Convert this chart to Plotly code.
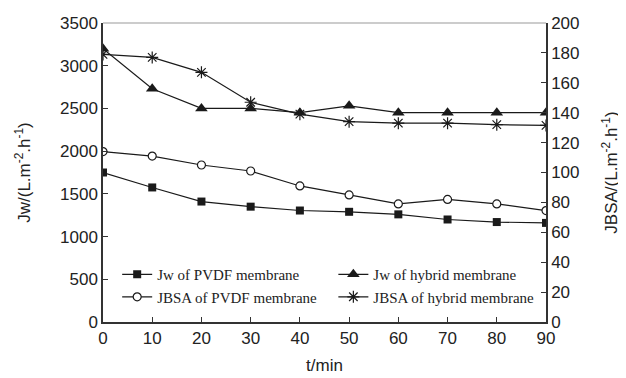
import plotly.graph_objects as go

t_min = [0, 10, 20, 30, 40, 50, 60, 70, 80, 90]
jw_pvdf = [1750, 1575, 1410, 1350, 1305, 1290, 1260, 1200, 1170, 1160]
jw_hybrid = [3200, 2730, 2500, 2500, 2450, 2530, 2450, 2450, 2450, 2450]
jbsa_pvdf = [114, 111, 105, 101, 91, 85, 79, 82, 79, 74.5]
jbsa_hybrid = [179, 177, 167, 147, 139, 134, 133, 133, 132, 131.5]

LC = "#1a1a1a"
fig = go.Figure()
common = dict(mode="lines+markers", line=dict(color=LC, width=1.2))
fig.add_trace(go.Scatter(x=t_min, y=jw_pvdf, name="Jw of PVDF membrane", yaxis="y",
                         marker=dict(symbol="square", size=8, color=LC), legend="legend", **common))
fig.add_trace(go.Scatter(x=t_min, y=jbsa_pvdf, name="JBSA of PVDF membrane", yaxis="y2",
                         marker=dict(symbol="circle", size=8, color="white", line=dict(color=LC, width=1.2)),
                         legend="legend", **common))
fig.add_trace(go.Scatter(x=t_min, y=jw_hybrid, name="Jw of hybrid membrane", yaxis="y",
                         marker=dict(symbol="triangle-up", size=11, color=LC), legend="legend2", **common))
fig.add_trace(go.Scatter(x=t_min, y=jbsa_hybrid, name="JBSA of hybrid membrane", yaxis="y2",
                         marker=dict(symbol="asterisk-open", size=10, color=LC, line=dict(color=LC, width=1.2)),
                         legend="legend2", **common))

tickfont = dict(family="Liberation Sans, Arial, sans-serif", size=17, color="#222")
axis_common = dict(showgrid=False, zeroline=False, ticks="inside", ticklen=5, tickcolor="#333",
                   showline=True, linecolor="#333", linewidth=1.5, tickfont=tickfont, automargin=False)
legfont = dict(family="Liberation Serif, Times New Roman, serif", size=15, color="#222")

# page body adds an 8px offset at top/left, so the figure is sized to compensate
fig.update_layout(
    width=618, height=370,
    margin=dict(l=95, r=80, t=15, b=56),
    paper_bgcolor="white", plot_bgcolor="white",
    showlegend=True,
    xaxis=dict(range=[0, 90], dtick=10, title=dict(text="t/min", font=tickfont, standoff=12),
               **axis_common),
    yaxis=dict(range=[0, 3500], dtick=500,
               title=dict(text="Jw/(L.m<sup>-2</sup>.h<sup>-1</sup>)", font=tickfont, standoff=25),
               **axis_common),
    yaxis2=dict(range=[0, 200], dtick=20, overlaying="y", side="right",
                title=dict(text="JBSA/(L.m<sup>-2</sup>.h<sup>-1</sup>)", font=tickfont, standoff=27),
                **axis_common),
    legend=dict(x=0.032, y=0.03, xanchor="left", yanchor="bottom", font=legfont,
                bgcolor="rgba(0,0,0,0)", tracegroupgap=0, itemwidth=30),
    legend2=dict(x=0.52, y=0.03, xanchor="left", yanchor="bottom", font=legfont,
                 bgcolor="rgba(0,0,0,0)", tracegroupgap=0, itemwidth=30),
)
# top border
fig.add_shape(type="line", xref="paper", yref="paper", x0=0, x1=1, y0=1, y1=1,
              line=dict(color="#999", width=1))

fig.write_html("out.html")
